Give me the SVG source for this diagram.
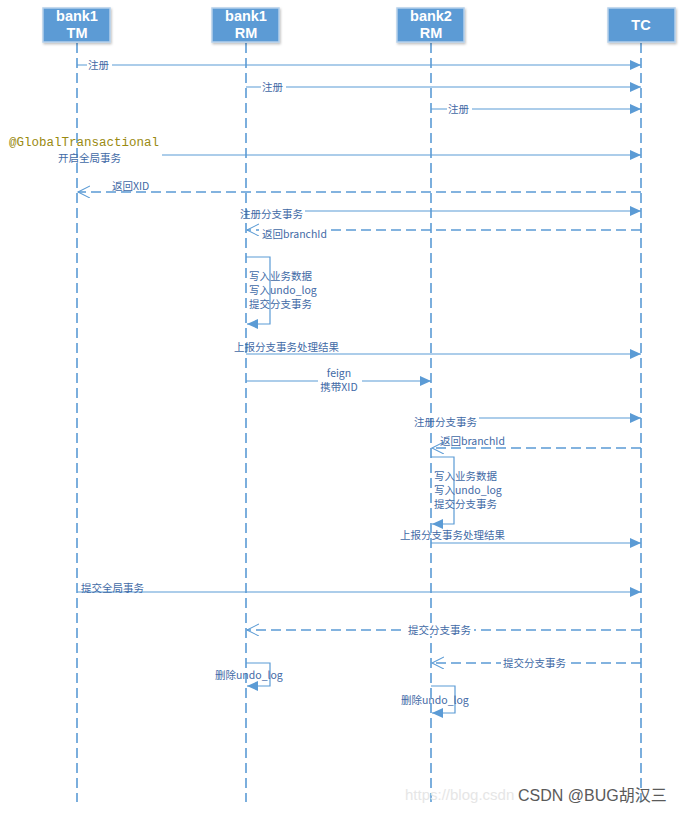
<svg xmlns="http://www.w3.org/2000/svg" width="686" height="813" viewBox="0 0 686 813">
<style>
.hdr{fill:#5b9bd5;stroke:#b4cfea;stroke-width:1.5}
.ht{font-family:"Liberation Sans",Arial,sans-serif;font-weight:bold;font-size:14.5px;fill:#fff;text-anchor:middle}
.life{stroke:#5b9bd5;stroke-width:1.6;stroke-dasharray:10,5;fill:none}
.msg{stroke:#5b9bd5;stroke-width:1.2;fill:none}
.ret{stroke:#5b9bd5;stroke-width:1.3;fill:none;stroke-dasharray:10,5}
.lbl{font-family:"Noto Sans CJK SC","Liberation Sans",sans-serif;font-size:10.5px;fill:#3f6aa6}
.bg{fill:#fff}
</style>
<defs>
<marker id="fa" markerWidth="12" markerHeight="10" refX="11" refY="5" orient="auto" markerUnits="userSpaceOnUse">
<path d="M0,0 L11,5 L0,10 Z" fill="#5b9bd5"/>
</marker>
<marker id="oa" markerWidth="14" markerHeight="14" refX="12" refY="6" orient="auto" markerUnits="userSpaceOnUse">
<path d="M0,0 L12,6 L0,12" fill="none" stroke="#5b9bd5" stroke-width="1.1"/>
</marker>
<filter id="sh" x="-10%" y="-10%" width="130%" height="140%">
<feDropShadow dx="1" dy="1.5" stdDeviation="1" flood-color="#000" flood-opacity="0.25"/>
</filter>
</defs>

<g id="lifelines">
<line class="life" x1="77" y1="43" x2="77" y2="802"/>
<line class="life" x1="246" y1="43" x2="246" y2="802"/>
<line class="life" x1="431" y1="43" x2="431" y2="802"/>
<line class="life" x1="641" y1="43" x2="641" y2="802"/>
</g>

<g id="bank1-TM"><rect class="hdr" x="43" y="8" width="67" height="34" filter="url(#sh)"/><text class="ht" x="77" y="21">bank1</text><text class="ht" x="77" y="38">TM</text></g>
<g id="bank1-RM"><rect class="hdr" x="212" y="8" width="67" height="34" filter="url(#sh)"/><text class="ht" x="246" y="21">bank1</text><text class="ht" x="246" y="38">RM</text></g>
<g id="bank2-RM"><rect class="hdr" x="397" y="8" width="67" height="34" filter="url(#sh)"/><text class="ht" x="431" y="21">bank2</text><text class="ht" x="431" y="38">RM</text></g>
<g id="TC"><rect class="hdr" x="608" y="8" width="67" height="34" filter="url(#sh)"/><text class="ht" x="641" y="30">TC</text></g>

<g id="connectors">
<line class="msg" x1="77" y1="65" x2="641" y2="65" marker-end="url(#fa)"/>
<line class="msg" x1="246" y1="87" x2="641" y2="87" marker-end="url(#fa)"/>
<line class="msg" x1="431" y1="109" x2="641" y2="109" marker-end="url(#fa)"/>
<line class="msg" x1="162" y1="155" x2="641" y2="155" marker-end="url(#fa)"/>
<line class="ret" x1="641" y1="192" x2="78" y2="192" marker-end="url(#oa)"/>
<line class="msg" x1="305" y1="211" x2="641" y2="211" marker-end="url(#fa)"/>
<line class="ret" x1="641" y1="230" x2="247" y2="230" marker-end="url(#oa)"/>
<polyline class="msg" points="246,257 270,257 270,324 247,324" marker-end="url(#fa)"/>
<line class="msg" x1="246" y1="354" x2="641" y2="354" marker-end="url(#fa)"/>
<line class="msg" x1="246" y1="381" x2="431" y2="381" marker-end="url(#fa)"/>
<line class="msg" x1="479" y1="418" x2="641" y2="418" marker-end="url(#fa)"/>
<line class="ret" x1="641" y1="448" x2="432" y2="448" marker-end="url(#oa)"/>
<polyline class="msg" points="431,457 454,457 454,524 432,524" marker-end="url(#fa)"/>
<line class="msg" x1="431" y1="543" x2="641" y2="543" marker-end="url(#fa)"/>
<line class="msg" x1="77" y1="592" x2="641" y2="592" marker-end="url(#fa)"/>
<line class="ret" x1="641" y1="630" x2="247" y2="630" marker-end="url(#oa)"/>
<line class="ret" x1="641" y1="663" x2="432" y2="663" marker-end="url(#oa)"/>
<polyline class="msg" points="246,663 270,663 270,686 247,686" marker-end="url(#fa)"/>
<polyline class="msg" points="431,686 455,686 455,713 432,713" marker-end="url(#fa)"/>
</g>

<g id="labels">
<rect class="bg" x="87" y="59" width="25" height="12"/><text class="lbl" x="88" y="69">注册</text>
<rect class="bg" x="261" y="81" width="25" height="12"/><text class="lbl" x="262" y="91">注册</text>
<rect class="bg" x="447" y="103" width="25" height="12"/><text class="lbl" x="448" y="113">注册</text>
<text x="9" y="146" font-family="'Liberation Mono',monospace" font-size="12.5px" fill="#9a8a10">@GlobalTransactional</text>
<text class="lbl" x="58" y="162">开启全局事务</text>
<rect class="bg" x="110" y="180" width="40" height="11"/><text class="lbl" x="112" y="190">返回XID</text>
<text class="lbl" x="240" y="218">注册分支事务</text>
<rect class="bg" x="259" y="227" width="68" height="12"/><text class="lbl" x="262" y="238">返回branchId</text>
<text class="lbl" x="249" y="280">写入业务数据</text>
<text class="lbl" x="249" y="294">写入undo_log</text>
<text class="lbl" x="249" y="308">提交分支事务</text>
<text class="lbl" x="234" y="351">上报分支事务处理结果</text>
<rect class="bg" x="318" y="368" width="44" height="25"/>
<text class="lbl" x="339" y="377" text-anchor="middle">feign</text>
<text class="lbl" x="339" y="391" text-anchor="middle">携带XID</text>
<text class="lbl" x="414" y="426">注册分支事务</text>
<text class="lbl" x="440" y="445">返回branchId</text>
<text class="lbl" x="434" y="480">写入业务数据</text>
<text class="lbl" x="434" y="494">写入undo_log</text>
<text class="lbl" x="434" y="508">提交分支事务</text>
<text class="lbl" x="400" y="539">上报分支事务处理结果</text>
<text class="lbl" x="81" y="592">提交全局事务</text>
<rect class="bg" x="406" y="624" width="68" height="12"/><text class="lbl" x="408" y="634">提交分支事务</text>
<rect class="bg" x="501" y="657" width="68" height="12"/><text class="lbl" x="503" y="667">提交分支事务</text>
<text class="lbl" x="215" y="679">删除undo_log</text>
<text class="lbl" x="401" y="704">删除undo_log</text>
</g>

<g id="watermark">
<text x="405" y="800" font-family="'Liberation Sans',Arial,sans-serif" font-size="15px" fill="#e6e6e6">https://blog.csdn</text>
<text x="518" y="801" font-family="'Liberation Sans','Noto Sans CJK SC',sans-serif" font-size="16px" fill="#5a5a5a">CSDN @BUG胡汉三</text>
</g>
</svg>
